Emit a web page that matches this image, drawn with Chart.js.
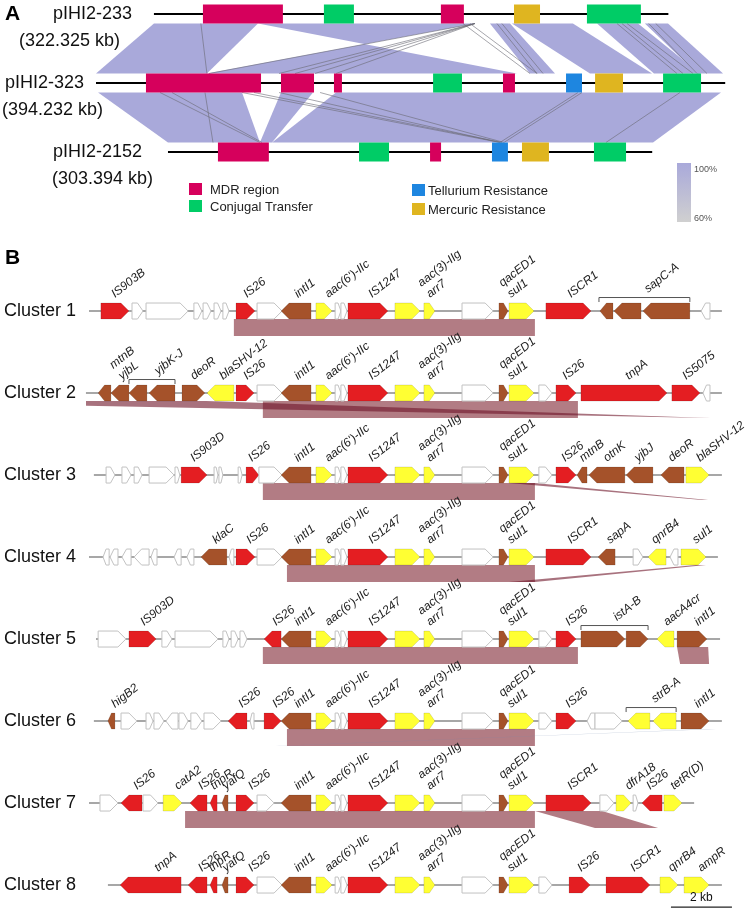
<!DOCTYPE html>
<html>
<head>
<meta charset="utf-8">
<title>Plasmid comparison and MDR clusters</title>
<script src="https://cdn.jsdelivr.net/npm/chart.js@4.4.1/dist/chart.umd.min.js"></script>
<style>
  html, body { margin: 0; padding: 0; background: #fff; }
  canvas { display: block; }
</style>
</head>
<body>
<canvas id="fig" width="750" height="913"></canvas>
<script>
// ---- Panel A: plasmids (kb) ----
const plasmidNames = ['pIHI2-233', 'pIHI2-323', 'pIHI2-2152'];
const plasmidSizes = [322.325, 394.232, 303.394];
const plasmidOffsets = [36.3, 0, 45.1];

// [start kb, end kb, region type]
const regions233 = [[30.7, 80.8, 'MDR'], [106.5, 125.3, 'CON'], [179.8, 194.2, 'MDR'], [225.6, 241.9, 'HG'], [271.3, 305.1, 'CON']];
const regions323 = [[31.3, 103.4, 'MDR'], [115.9, 136.6, 'MDR'], [149.1, 154.1, 'MDR'], [211.2, 229.3, 'CON'], [255.0, 262.5, 'MDR'], [294.5, 304.5, 'TE'], [312.7, 330.2, 'HG'], [355.3, 379.1, 'CON']];
const regions2152 = [[31.3, 63.2, 'MDR'], [119.7, 138.5, 'CON'], [164.2, 171.1, 'MDR'], [203.0, 213.0, 'TE'], [221.8, 238.7, 'HG'], [266.9, 287.0, 'CON']];

// blast blocks: [upper start, upper end, lower start, lower end] (kb), crossed ends = inverted
const blast233vs323 = [[0, 65.2, 0, 69.5], [65.2, 201.2, 263.8, 69.5], [210.5, 223.1, 271.9, 287.6], [224.3, 262.5, 309.5, 348.4], [277.6, 303.3, 349.6, 378.4], [307.6, 322.1, 376.6, 392.9]];
const blast323vs2152 = [[1.3, 91.5, 0, 57.6], [115.9, 136.0, 57.6, 65.2], [150.4, 391.6, 65.2, 303.9]];
// short hits: [upper kb, lower kb]
const hits233vs323 = [[29.4, 69.5], [201.1, 70.8], [201.1, 114.7], [201.1, 124.7], [201.1, 137.2], [201.1, 150.4], [193.6, 271.9], [198.0, 276.3], [214.9, 276.3], [218.0, 280.1], [290.1, 364.0], [293.2, 367.8], [296.4, 374.1], [310.0, 376.6], [314.4, 382.8]];
const hits323vs2152 = [[40.1, 57.6], [47.6, 58.9], [68.3, 28.2], [91.5, 208.0], [99.0, 209.3], [114.7, 208.0], [140.4, 210.5], [302.0, 208.0], [304.5, 210.5], [365.9, 274.4]];

const regionNames = ['MDR region', 'Conjugal Transfer', 'Tellurium Resistance', 'Mercuric Resistance'];

// ---- Panel B: gene clusters (kb) ----
// [start, end, strand, class]  r = IS/transposase, b = other, y = resistance, w = hypothetical
const coreGenes = [[6.30, 7.28, -1, 'b'], [7.44, 7.97, 1, 'y'], [8.07, 8.26, 1, 'w'], [8.26, 8.46, 1, 'w'], [8.49, 9.80, 1, 'r'], [10.03, 10.85, 1, 'y'], [10.98, 11.34, 1, 'y'], [12.23, 13.25, 1, 'w'], [13.44, 13.74, 1, 'b'], [13.77, 14.59, 1, 'y']];
const coreLabels = [[6.85, 'intI1'], [7.85, "aac(6')-IIc"], [9.28, 'IS1247'], [11.18, 'aac(3)-IIg|arr7'], [13.84, 'qacED1|sul1']];

const c1Genes = [[0.39, 1.31, 1, 'r'], [1.41, 1.77, 1, 'w'], [1.87, 3.25, 1, 'w'], [3.44, 3.70, 1, 'w'], [3.74, 4.00, 1, 'w'], [4.10, 4.33, 1, 'w'], [4.39, 4.59, 1, 'w'], [4.82, 5.44, 1, 'r'], [5.51, 6.33, 1, 'w'], [14.98, 16.46, 1, 'r'], [16.75, 17.18, -1, 'b'], [17.21, 18.10, -1, 'b'], [18.16, 19.70, -1, 'b'], [20.07, 20.36, -1, 'w']];
const c2Genes = [[0.30, 0.72, -1, 'b'], [0.72, 1.31, -1, 'b'], [1.31, 1.90, -1, 'b'], [1.97, 2.82, -1, 'b'], [3.05, 3.80, 1, 'b'], [3.87, 4.75, -1, 'y'], [4.82, 5.41, 1, 'r'], [5.51, 6.33, 1, 'w'], [14.75, 15.18, 1, 'w'], [15.31, 15.97, 1, 'r'], [16.13, 18.95, 1, 'r'], [19.11, 20.03, 1, 'r'], [20.13, 20.36, -1, 'w']];
const c3Genes = [[0.56, 0.85, 1, 'w'], [1.08, 1.38, 1, 'w'], [1.48, 1.74, 1, 'w'], [1.97, 2.79, 1, 'w'], [2.82, 2.98, 1, 'w'], [3.02, 3.87, 1, 'r'], [4.10, 4.23, 1, 'w'], [4.26, 4.39, 1, 'w'], [4.89, 5.02, 1, 'w'], [5.15, 5.57, 1, 'r'], [5.57, 6.33, 1, 'w'], [14.75, 15.18, 1, 'w'], [15.31, 15.97, 1, 'r'], [16.00, 16.33, -1, 'b'], [16.39, 17.57, -1, 'b'], [17.61, 18.49, -1, 'b'], [18.75, 19.51, -1, 'b'], [19.57, 20.33, 1, 'y']];
const c4Genes = [[0.46, 0.66, -1, 'w'], [0.69, 0.95, -1, 'w'], [1.08, 1.38, -1, 'w'], [1.48, 1.97, -1, 'w'], [2.03, 2.23, -1, 'w'], [2.79, 3.02, -1, 'w'], [3.21, 3.44, -1, 'w'], [3.67, 4.52, -1, 'b'], [4.59, 4.75, -1, 'w'], [4.82, 5.44, 1, 'r'], [5.51, 6.33, 1, 'w'], [14.98, 16.46, 1, 'r'], [16.69, 17.25, -1, 'b'], [17.84, 18.16, 1, 'w'], [18.33, 18.92, -1, 'y'], [19.05, 19.31, -1, 'w'], [19.41, 20.23, 1, 'y']];
const c5Genes = [[0.30, 1.21, 1, 'w'], [1.31, 2.20, 1, 'r'], [2.39, 2.72, 1, 'w'], [2.82, 4.23, 1, 'w'], [4.39, 4.59, 1, 'w'], [4.66, 4.89, 1, 'w'], [4.95, 5.18, 1, 'w'], [5.74, 6.30, -1, 'r'], [14.75, 15.18, 1, 'w'], [15.31, 15.97, 1, 'r'], [16.13, 17.57, 1, 'b'], [17.61, 18.33, 1, 'b'], [18.62, 19.18, -1, 'y'], [19.28, 20.26, 1, 'b']];
const c6Genes = [[0.62, 0.85, -1, 'b'], [1.05, 1.57, 1, 'w'], [1.87, 2.10, 1, 'w'], [2.13, 2.46, 1, 'w'], [2.52, 2.92, -1, 'w'], [2.95, 3.25, 1, 'w'], [3.34, 3.70, 1, 'w'], [3.77, 4.33, 1, 'w'], [4.56, 5.18, -1, 'r'], [5.28, 5.41, -1, 'w'], [5.74, 6.30, 1, 'r'], [14.75, 15.18, 1, 'w'], [15.31, 15.97, 1, 'r'], [16.33, 16.59, -1, 'w'], [16.59, 17.48, 1, 'w'], [17.67, 18.39, -1, 'y'], [18.49, 19.25, -1, 'y'], [19.41, 20.33, 1, 'b']];
const c7Genes = [[0.36, 0.95, 1, 'w'], [1.05, 1.74, -1, 'r'], [1.77, 2.26, 1, 'w'], [2.43, 3.05, 1, 'y'], [3.31, 3.87, -1, 'r'], [3.97, 4.20, -1, 'r'], [4.36, 4.56, -1, 'b'], [4.82, 5.41, 1, 'r'], [5.51, 6.07, 1, 'w'], [14.98, 16.46, 1, 'r'], [16.75, 17.21, 1, 'w'], [17.28, 17.77, 1, 'y'], [17.84, 18.00, 1, 'w'], [18.13, 18.79, -1, 'r'], [18.85, 19.44, 1, 'y']];
const c8Genes = [[1.02, 3.02, -1, 'r'], [3.25, 3.87, -1, 'r'], [3.97, 4.20, -1, 'r'], [4.36, 4.56, -1, 'b'], [4.82, 5.41, 1, 'r'], [5.51, 6.33, 1, 'w'], [14.75, 15.18, 1, 'w'], [15.74, 16.43, 1, 'r'], [16.95, 18.39, 1, 'r'], [18.72, 19.31, 1, 'y'], [19.51, 20.33, 1, 'y']];

// gene names: [kb, text], '|' splits two stacked names
const c1Labels = [[0.85, 'IS903B'], [5.18, 'IS26'], [15.80, 'ISCR1']];
const c2Labels = [[1.08, 'mtnB|yjbL'], [3.44, 'deoR'], [4.39, 'blaSHV-12'], [5.18, 'IS26'], [15.64, 'IS26'], [17.70, 'tnpA'], [19.57, 'IS5075']];
const c3Labels = [[3.44, 'IS903D'], [5.34, 'IS26'], [15.61, 'IS26'], [16.20, 'mtnB'], [16.98, 'otnK'], [18.00, 'yjbJ'], [19.11, 'deoR'], [20.03, 'blaSHV-12']];
const c4Labels = [[4.16, 'klaC'], [5.28, 'IS26'], [15.80, 'ISCR1'], [17.08, 'sapA'], [18.56, 'qnrB4'], [19.90, 'sul1']];
const c5Labels = [[1.80, 'IS903D'], [6.13, 'IS26'], [15.74, 'IS26'], [18.95, 'aacA4cr'], [19.97, 'intI1']];
const c6Labels = [[0.85, 'higB2'], [5.02, 'IS26'], [6.13, 'IS26'], [15.74, 'IS26'], [19.97, 'intI1']];
const c7Labels = [[1.57, 'IS26'], [2.92, 'catA2'], [3.70, 'IS26'], [4.10, 'tnpR'], [4.49, 'yafQ'], [5.34, 'IS26'], [15.80, 'ISCR1'], [17.70, 'dfrA18'], [18.39, 'IS26'], [19.18, 'tetR(D)']];
const c8Labels = [[2.26, 'tnpA'], [3.70, 'IS26'], [4.03, 'tnpR'], [4.49, 'yafQ'], [5.34, 'IS26'], [16.13, 'IS26'], [17.87, 'ISCR1'], [19.11, 'qnrB4'], [20.07, 'ampR']];

// operon brackets: [start, end, label kb, text]
const c1Brackets = [[16.72, 19.70, 18.33, 'sapC-A']];
const c2Brackets = [[1.31, 2.82, 2.26, 'yjbK-J']];
const c5Brackets = [[16.13, 18.33, 17.31, 'istA-B']];
const c6Brackets = [[17.61, 19.25, 18.56, 'strB-A']];

// homology to the next cluster: [upper start, upper end, lower start, lower end, kind]
// kind: none = block, 's' = thin crossing hit, 'weak' = low identity hit
const c1Bands = [[4.75, 14.62, 4.75, 14.62]];
const c2Bands = [[5.70, 16.03, 5.70, 16.03], [-7.7, 3.84, 20.30, 20.36, 's']];
const c3Bands = [[5.70, 14.62, 5.70, 14.62], [13.77, 14.62, 20.10, 20.30, 's']];
const c4Bands = [[6.49, 14.62, 6.49, 14.62], [19.90, 20.23, 13.77, 14.62, 's']];
const c5Bands = [[5.70, 16.03, 5.70, 16.03], [19.28, 20.30, 19.38, 20.33]];
const c6Bands = [[6.49, 14.62, 6.49, 14.62], [20.30, 20.55, 6.13, 6.25, 'weak']];
const c7Bands = [[3.15, 14.62, 3.15, 14.62], [14.62, 16.82, 16.59, 18.66]];
const c8Bands = [];

const clusterSpans = [[0, 20.75], [-0.10, 20.75], [0.16, 20.75], [0, 20.62], [0.23, 20.69], [0.16, 20.75], [0, 19.84], [0.62, 20.75]];
const scaleBar = [19.08, 21.08];

const clusters = [
  [c1Genes, c1Labels, c1Brackets, c1Bands],
  [c2Genes, c2Labels, c2Brackets, c2Bands],
  [c3Genes, c3Labels, [], c3Bands],
  [c4Genes, c4Labels, [], c4Bands],
  [c5Genes, c5Labels, c5Brackets, c5Bands],
  [c6Genes, c6Labels, c6Brackets, c6Bands],
  [c7Genes, c7Labels, [], c7Bands],
  [c8Genes, c8Labels, [], c8Bands]
].map((c, i) => ({ genes: c[0].concat(coreGenes), labels: c[1].concat(coreLabels), brackets: c[2], bands: c[3], span: clusterSpans[i] }));

const FONT = 'Arial, "Liberation Sans", sans-serif';
const regionColors = { MDR: '#d6005c', CON: '#00cc66', TE: '#1e86e0', HG: '#dfb520' };
const geneColors = { r: '#e41e22', b: '#a5522a', y: '#ffff33', w: '#ffffff' };
const bandColors = { block: '#b27c84', s: 'rgba(110,20,40,0.6)', weak: 'rgba(120,140,175,0.55)' };
const lavender = '#a9a9da';

// backbones go in as real line datasets
const datasets = [];
plasmidSizes.forEach((size, r) => {
  datasets.push({
    data: [{ x: plasmidOffsets[r], y: r }, { x: plasmidOffsets[r] + size, y: r }],
    xAxisID: 'xa', yAxisID: 'ya', showLine: true, borderColor: '#000', borderWidth: 2, pointRadius: 0
  });
});
clusters.forEach((c, i) => {
  datasets.push({
    data: [{ x: c.span[0], y: i + 1 }, { x: c.span[1], y: i + 1 }],
    xAxisID: 'x', yAxisID: 'y', showLine: true, borderColor: '#8a8a8a', borderWidth: 1.5, pointRadius: 0
  });
});

function quad(ctx, t0, t1, yt, b0, b1, yb) {
  ctx.beginPath();
  ctx.moveTo(t0, yt);
  ctx.lineTo(t1, yt);
  ctx.lineTo(b1, yb);
  ctx.lineTo(b0, yb);
  ctx.closePath();
  ctx.fill();
}

function arrow(ctx, x0, x1, y, strand, cls) {
  const h = 8;
  const head = Math.min(8, (x1 - x0) * 0.5);
  ctx.beginPath();
  if (strand > 0) {
    ctx.moveTo(x0, y - h); ctx.lineTo(x1 - head, y - h); ctx.lineTo(x1, y);
    ctx.lineTo(x1 - head, y + h); ctx.lineTo(x0, y + h);
  } else {
    ctx.moveTo(x1, y - h); ctx.lineTo(x0 + head, y - h); ctx.lineTo(x0, y);
    ctx.lineTo(x0 + head, y + h); ctx.lineTo(x1, y + h);
  }
  ctx.closePath();
  ctx.fillStyle = geneColors[cls];
  ctx.fill();
  ctx.lineWidth = 1;
  ctx.strokeStyle = cls === 'w' ? '#c2c2c2' : 'rgba(0,0,0,0.12)';
  ctx.stroke();
}

function slanted(ctx, x, y, text) {
  const lines = text.split('|');
  ctx.save();
  ctx.translate(x, y);
  ctx.rotate(-38 * Math.PI / 180);
  ctx.font = 'italic 12px ' + FONT;
  ctx.fillStyle = '#222';
  ctx.textAlign = 'left';
  ctx.textBaseline = 'alphabetic';
  lines.forEach((ln, i) => ctx.fillText(ln, 0, (i - lines.length + 1) * 14));
  ctx.restore();
}

const figurePlugin = {
  id: 'figurePlugin',
  beforeDatasetsDraw(chart) {
    const ctx = chart.ctx;
    const ax = chart.scales.xa, ay = chart.scales.ya, sx = chart.scales.x, sy = chart.scales.y;
    const boxH = 9.5;
    ctx.save();
    // panel A homology ribbons
    [[blast233vs323, hits233vs323, 0], [blast323vs2152, hits323vs2152, 1]].forEach(([blocks, hits, r]) => {
      const yt = ay.getPixelForValue(r) + boxH, yb = ay.getPixelForValue(r + 1) - boxH;
      const px = (k, row) => ax.getPixelForValue(plasmidOffsets[row] + k);
      ctx.fillStyle = lavender;
      blocks.forEach(b => quad(ctx, px(b[0], r), px(b[1], r), yt, px(b[2], r + 1), px(b[3], r + 1), yb));
      ctx.strokeStyle = 'rgba(105,105,115,0.75)';
      ctx.lineWidth = 0.8;
      hits.forEach(hh => {
        ctx.beginPath();
        ctx.moveTo(px(hh[0], r), yt);
        ctx.lineTo(px(hh[1], r + 1), yb);
        ctx.stroke();
      });
    });
    // panel B homology bands, clipped to the cluster extent
    clusters.forEach((c, i) => {
      const y = sy.getPixelForValue(i + 1);
      ctx.save();
      ctx.beginPath();
      ctx.rect(sx.getPixelForValue(c.span[0]), y, chart.width, 40);
      ctx.clip();
      c.bands.forEach(b => {
        ctx.fillStyle = bandColors[b[4] || 'block'];
        quad(ctx, sx.getPixelForValue(b[0]), sx.getPixelForValue(b[1]), y + 8, sx.getPixelForValue(b[2]), sx.getPixelForValue(b[3]), y + 25);
      });
      ctx.restore();
    });
    ctx.restore();
  },
  afterDatasetsDraw(chart) {
    const ctx = chart.ctx;
    const ax = chart.scales.xa, ay = chart.scales.ya, sx = chart.scales.x, sy = chart.scales.y;
    ctx.save();

    // panel A
    ctx.fillStyle = '#000';
    ctx.font = 'bold 21px ' + FONT;
    ctx.textBaseline = 'middle';
    ctx.fillText('A', 5, ay.getPixelForValue(0));
    const nameX = [[53, 19], [5, 2], [53, 52]];
    [regions233, regions323, regions2152].forEach((regs, r) => {
      const y = ay.getPixelForValue(r);
      regs.forEach(g => {
        const x0 = ax.getPixelForValue(plasmidOffsets[r] + g[0]);
        const x1 = ax.getPixelForValue(plasmidOffsets[r] + g[1]);
        ctx.fillStyle = regionColors[g[2]];
        ctx.fillRect(x0, y - 9.5, x1 - x0, 19);
      });
      ctx.fillStyle = '#111';
      ctx.font = '18px ' + FONT;
      ctx.fillText(plasmidNames[r], nameX[r][0], y);
      ctx.fillText('(' + plasmidSizes[r].toFixed(3) + ' kb)', nameX[r][1], y + 27);
    });

    // legend
    const legendPos = [[189, 183], [189, 200], [412, 184], [412, 203]];
    ['MDR', 'CON', 'TE', 'HG'].forEach((k, i) => {
      const [lx, ly] = legendPos[i];
      ctx.fillStyle = regionColors[k];
      ctx.fillRect(lx, ly, 13, 12);
      ctx.fillStyle = '#222';
      ctx.font = '13px ' + FONT;
      ctx.fillText(regionNames[i], lx + (i < 2 ? 21 : 16), ly + 7);
    });
    const grad = ctx.createLinearGradient(0, 163, 0, 222);
    grad.addColorStop(0, lavender);
    grad.addColorStop(1, '#d0d0d0');
    ctx.fillStyle = grad;
    ctx.fillRect(677, 163, 14, 59);
    ctx.fillStyle = '#555';
    ctx.font = '9px ' + FONT;
    ctx.fillText('100%', 694, 170);
    ctx.fillText('60%', 694, 219);

    // panel B
    ctx.fillStyle = '#000';
    ctx.font = 'bold 21px ' + FONT;
    ctx.fillText('B', 5, 258);
    clusters.forEach((c, i) => {
      const y = sy.getPixelForValue(i + 1);
      ctx.fillStyle = '#111';
      ctx.font = '18px ' + FONT;
      ctx.textBaseline = 'middle';
      ctx.fillText('Cluster ' + (i + 1), 4, y);
      c.genes.forEach(g => arrow(ctx, sx.getPixelForValue(g[0]), sx.getPixelForValue(g[1]), y, g[2], g[3]));
      c.brackets.forEach(b => {
        const x0 = sx.getPixelForValue(b[0]), x1 = sx.getPixelForValue(b[1]);
        ctx.strokeStyle = '#555';
        ctx.lineWidth = 1;
        ctx.beginPath();
        ctx.moveTo(x0, y - 9); ctx.lineTo(x0, y - 13.5); ctx.lineTo(x1, y - 13.5); ctx.lineTo(x1, y - 9);
        ctx.stroke();
        slanted(ctx, sx.getPixelForValue(b[2]), y - 18, b[3]);
      });
      c.labels.forEach(l => slanted(ctx, sx.getPixelForValue(l[0]), y - 13, l[1]));
    });

    // scale bar
    const yb = sy.getPixelForValue(8) + 22;
    const b0 = sx.getPixelForValue(scaleBar[0]), b1 = sx.getPixelForValue(scaleBar[1]);
    ctx.strokeStyle = '#222';
    ctx.lineWidth = 1.2;
    ctx.beginPath();
    ctx.moveTo(b0, yb); ctx.lineTo(b1, yb);
    ctx.stroke();
    ctx.fillStyle = '#111';
    ctx.font = '12px ' + FONT;
    ctx.textAlign = 'center';
    ctx.fillText((scaleBar[1] - scaleBar[0]) + ' kb', (b0 + b1) / 2, yb - 9);
    ctx.restore();
  }
};

new Chart(document.getElementById('fig'), {
  type: 'scatter',
  data: { datasets: datasets },
  options: {
    responsive: false,
    animation: false,
    devicePixelRatio: 1,
    events: [],
    layout: { padding: 0 },
    plugins: { legend: { display: false }, tooltip: { enabled: false } },
    scales: {
      x: { type: 'linear', axis: 'x', display: false, min: -2.918, max: 21.672 },
      y: { type: 'linear', axis: 'y', display: false, min: -2.793, max: 8.341, reverse: true },
      xa: { type: 'linear', axis: 'x', display: false, min: -60.15, max: 409.77 },
      ya: { type: 'linear', axis: 'y', display: false, min: -0.2029, max: 13.029, reverse: true }
    }
  },
  plugins: [figurePlugin]
});
</script>
</body>
</html>
